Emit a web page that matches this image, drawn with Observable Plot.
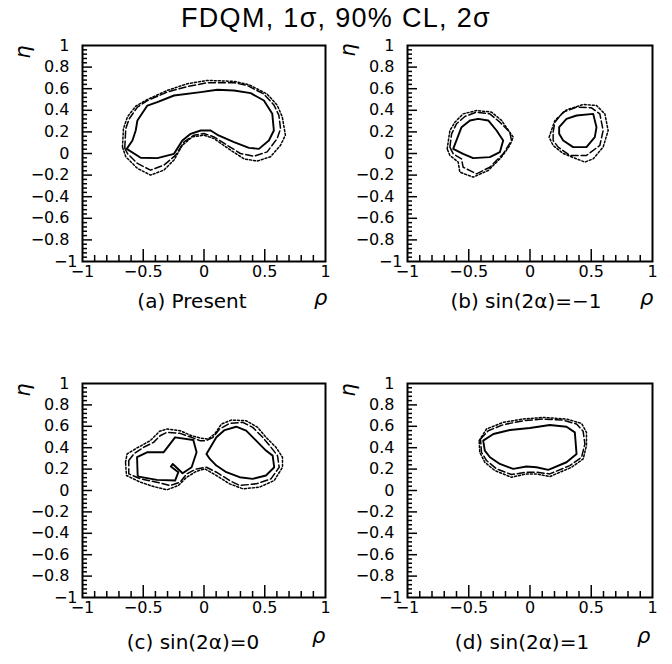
<!DOCTYPE html>
<html><head><meta charset="utf-8">
<script src="https://cdn.jsdelivr.net/npm/d3@7"></script>
<script src="https://cdn.jsdelivr.net/npm/@observablehq/plot@0.6"></script>
<style>
body{margin:0;background:#fff;}
#root{position:relative;width:672px;height:664px;font-family:"Liberation Sans",Arial,sans-serif;color:#000;background:#fff;}
.abs{position:absolute;white-space:nowrap;line-height:1;}
.plot{position:absolute;}
</style></head><body><div id="root"></div>
<script>
// ---- axis ticks ----
const xLabelTicks = [-1, -0.5, 0, 0.5, 1];
const xMajorTicks = [-0.5, 0, 0.5];
const xMinorTicks = [-0.9,-0.8,-0.7,-0.6,-0.4,-0.3,-0.2,-0.1,0.1,0.2,0.3,0.4,0.6,0.7,0.8,0.9];
const yLabelTicks = [1, 0.8, 0.6, 0.4, 0.2, 0, -0.2, -0.4, -0.6, -0.8];
const yBottomLabel = [-1];
const yMajorTicks = [0.8, 0.6, 0.4, 0.2, 0, -0.2, -0.4, -0.6, -0.8];
const yMinorTicks = d3.range(-0.96, 0.97, 0.04).map(v => Math.round(v * 100) / 100).filter(v => Math.round(v * 100) % 20 !== 0);

// ---- title & captions ----
const title = "FDQM, 1σ, 90% CL, 2σ";
const captions = ["(a) Present", "(b) sin(2α)=−1", "(c) sin(2α)=0", "(d) sin(2α)=1"];
const xName = "ρ";
const yName = "η";

// ---- contours: [rho, eta] ----
// (a) Present
const a1sigma = [[-0.636,0.043],[-0.589,0.120],[-0.562,0.213],[-0.548,0.306],[-0.466,0.444],[-0.384,0.475],[-0.247,0.537],[-0.027,0.568],[0.110,0.590],[0.247,0.583],[0.384,0.559],[0.493,0.491],[0.562,0.367],[0.575,0.213],[0.534,0.120],[0.452,0.043],[0.370,0.052],[0.247,0.105],[0.110,0.173],[0.055,0.213],[-0.027,0.213],[-0.110,0.182],[-0.178,0.120],[-0.247,-0.003],[-0.384,-0.043],[-0.521,-0.040]];
const a90cl = [[-0.652,0.05],[-0.644,0.23],[-0.616,0.32],[-0.548,0.43],[-0.466,0.49],[-0.30,0.57],[-0.137,0.62],[0.027,0.655],[0.247,0.655],[0.356,0.63],[0.493,0.55],[0.575,0.45],[0.616,0.355],[0.63,0.23],[0.603,0.14],[0.52,0.015],[0.41,-0.025],[0.30,0.0],[0.19,0.077],[0.082,0.154],[0.0,0.185],[-0.082,0.17],[-0.164,0.108],[-0.233,-0.015],[-0.33,-0.108],[-0.44,-0.154],[-0.548,-0.092],[-0.63,0.0]];
const a2sigma = [[-0.671,0.06],[-0.663,0.23],[-0.63,0.34],[-0.56,0.44],[-0.466,0.5],[-0.30,0.585],[-0.137,0.646],[0.027,0.677],[0.247,0.668],[0.37,0.637],[0.52,0.55],[0.603,0.446],[0.644,0.34],[0.67,0.17],[0.63,0.077],[0.548,-0.03],[0.438,-0.07],[0.33,-0.05],[0.22,0.03],[0.082,0.138],[0.0,0.17],[-0.096,0.154],[-0.178,0.077],[-0.247,-0.06],[-0.33,-0.154],[-0.44,-0.2],[-0.548,-0.138],[-0.644,-0.03]];
// (b) sin(2a) = -1 : two islands
const b1sigmaL = [[-0.627,0.043],[-0.559,0.244],[-0.49,0.306],[-0.423,0.321],[-0.341,0.306],[-0.273,0.213],[-0.219,0.120],[-0.246,0.012],[-0.328,-0.034],[-0.464,-0.043],[-0.546,-0.003]];
const b90clL = [[-0.654,0.059],[-0.64,0.182],[-0.6,0.275],[-0.532,0.343],[-0.437,0.383],[-0.328,0.367],[-0.246,0.29],[-0.165,0.198],[-0.151,0.120],[-0.219,-0.003],[-0.328,-0.127],[-0.437,-0.188],[-0.546,-0.127],[-0.559,-0.05],[-0.627,-0.003]];
const b2sigmaL = [[-0.676,0.043],[-0.654,0.213],[-0.613,0.29],[-0.546,0.367],[-0.437,0.398],[-0.314,0.383],[-0.232,0.306],[-0.137,0.151],[-0.165,0.074],[-0.233,-0.034],[-0.341,-0.157],[-0.464,-0.219],[-0.573,-0.173],[-0.586,-0.08],[-0.654,-0.018]];
const b1sigmaR = [[0.238,0.244],[0.298,0.321],[0.38,0.352],[0.516,0.367],[0.543,0.244],[0.529,0.151],[0.461,0.059],[0.352,0.059],[0.271,0.120],[0.238,0.182]];
const b90clR = [[0.189,0.198],[0.203,0.29],[0.271,0.383],[0.38,0.429],[0.502,0.423],[0.57,0.367],[0.597,0.213],[0.57,0.074],[0.461,-0.018],[0.325,-0.018],[0.23,0.059],[0.189,0.12]];
const b2sigmaR = [[0.156,0.151],[0.203,0.306],[0.298,0.404],[0.434,0.454],[0.543,0.444],[0.611,0.367],[0.638,0.213],[0.597,0.059],[0.516,-0.049],[0.448,-0.080],[0.38,-0.049],[0.271,0.0],[0.189,0.074]];
// (c) sin(2a) = 0
const c1sigmaL = [[-0.546,0.140],[-0.551,0.311],[-0.469,0.357],[-0.333,0.357],[-0.238,0.497],[-0.088,0.472],[-0.061,0.357],[-0.102,0.217],[-0.176,0.161],[-0.257,0.248],[-0.273,0.224],[-0.211,0.171],[-0.238,0.093],[-0.388,0.099],[-0.537,0.130]];
const c1sigmaR = [[0.020,0.342],[0.102,0.497],[0.170,0.565],[0.265,0.596],[0.347,0.559],[0.429,0.466],[0.510,0.373],[0.565,0.326],[0.578,0.217],[0.510,0.140],[0.401,0.109],[0.293,0.124],[0.184,0.171],[0.102,0.233],[0.048,0.295]];
const c90cl = [[-0.619,0.280],[-0.578,0.342],[-0.497,0.404],[-0.415,0.450],[-0.361,0.512],[-0.306,0.543],[-0.197,0.534],[-0.102,0.497],[-0.034,0.466],[0.020,0.466],[0.075,0.497],[0.129,0.575],[0.211,0.627],[0.320,0.637],[0.401,0.590],[0.483,0.497],[0.551,0.404],[0.605,0.326],[0.619,0.217],[0.551,0.109],[0.429,0.062],[0.293,0.047],[0.211,0.093],[0.102,0.171],[0.020,0.217],[-0.061,0.202],[-0.143,0.155],[-0.197,0.078],[-0.279,0.047],[-0.388,0.078],[-0.524,0.109],[-0.619,0.155]];
const c2sigma = [[-0.646,0.264],[-0.633,0.342],[-0.551,0.398],[-0.442,0.466],[-0.366,0.553],[-0.306,0.575],[-0.197,0.559],[-0.102,0.512],[-0.034,0.491],[0.034,0.481],[0.088,0.528],[0.143,0.621],[0.224,0.658],[0.347,0.652],[0.442,0.590],[0.510,0.497],[0.592,0.404],[0.646,0.311],[0.646,0.217],[0.578,0.093],[0.456,0.031],[0.320,0.016],[0.211,0.062],[0.102,0.140],[0.007,0.202],[-0.061,0.180],[-0.143,0.124],[-0.211,0.047],[-0.306,0.006],[-0.415,0.037],[-0.524,0.078],[-0.638,0.140]];
// (d) sin(2a) = 1
const d1sigma = [[-0.382,0.466],[-0.299,0.528],[-0.163,0.565],[-0.001,0.584],[0.162,0.612],[0.298,0.596],[0.366,0.543],[0.380,0.342],[0.298,0.264],[0.149,0.193],[0.053,0.217],[-0.029,0.224],[-0.137,0.202],[-0.246,0.248],[-0.327,0.311],[-0.369,0.373]];
const d90cl = [[-0.404,0.481],[-0.341,0.559],[-0.218,0.615],[-0.055,0.652],[0.108,0.668],[0.271,0.658],[0.380,0.621],[0.434,0.553],[0.448,0.435],[0.421,0.311],[0.325,0.233],[0.162,0.155],[0.053,0.171],[-0.029,0.171],[-0.151,0.149],[-0.273,0.202],[-0.355,0.280],[-0.396,0.357]];
const d2sigma = [[-0.415,0.466],[-0.355,0.575],[-0.218,0.637],[-0.055,0.668],[0.108,0.683],[0.298,0.668],[0.421,0.627],[0.461,0.543],[0.461,0.419],[0.434,0.295],[0.339,0.217],[0.162,0.130],[0.053,0.155],[-0.029,0.155],[-0.151,0.124],[-0.287,0.186],[-0.369,0.264],[-0.410,0.357]];

const root = document.getElementById("root");
const FONT = "DejaVu Sans, sans-serif";
const fmt = d => (d < 0 ? "\u2212" : "") + Math.abs(d);

function addText(txt, x, y, style) {
  const el = document.createElement("div");
  el.className = "abs";
  el.textContent = txt;
  el.style.left = x + "px";
  el.style.top = y + "px";
  Object.assign(el.style, style || {});
  root.appendChild(el);
  return el;
}

addText(title, 0, 5, {width: "672px", textAlign: "center", fontSize: "27px", letterSpacing: "1.3px", fontFamily: "Liberation Sans, Arial, sans-serif"});

const panels = [
  {left: 0,   top: 30,  h: 276, ml: 82, mr: 11, mt: 15, mb: 45, solid: [a1sigma], dash: [a90cl], dot: [a2sigma]},
  {left: 336, top: 30,  h: 276, ml: 71, mr: 20, mt: 15, mb: 45, solid: [b1sigmaL, b1sigmaR], dash: [b90clL, b90clR], dot: [b2sigmaL, b2sigmaR]},
  {left: 0,   top: 370, h: 257, ml: 82, mr: 11, mt: 13, mb: 30, solid: [c1sigmaL, c1sigmaR], dash: [c90cl], dot: [c2sigma]},
  {left: 336, top: 370, h: 257, ml: 71, mr: 20, mt: 13, mb: 30, solid: [d1sigma], dash: [d90cl], dot: [d2sigma]}
];

const capPos = [[192, 291], [526, 291], [193, 632], [522, 632]];
const rhoPos = [[314, 288], [640, 288], [312, 626], [637, 626]];
const etaPos = [[23, 52], [348, 50], [23, 390], [348, 390]];

panels.forEach((p, i) => {
  const lineOpts = {x: d => d[0], y: d => d[1], curve: "linear-closed", stroke: "black"};
  const marks = [];
  p.dot.forEach(c => marks.push(Plot.line(c, {...lineOpts, strokeWidth: 1.5, strokeDasharray: "2,2"})));
  p.dash.forEach(c => marks.push(Plot.line(c, {...lineOpts, strokeWidth: 1.5, strokeDasharray: "7,3"})));
  p.solid.forEach(c => marks.push(Plot.line(c, {...lineOpts, strokeWidth: 1.9})));
  const chart = Plot.plot({
    width: 336, height: p.h,
    marginLeft: p.ml, marginRight: p.mr, marginTop: p.mt, marginBottom: p.mb,
    x: {domain: [-1, 1]},
    y: {domain: [-1, 1]},
    style: {fontFamily: FONT, fontSize: "16px", color: "#000", background: "transparent", overflow: "visible"},
    marks: [
      Plot.axisX(xMinorTicks, {tickSize: 6, dy: -6, tickFormat: () => "", label: null, strokeWidth: 1.5}),
      Plot.axisX(xMajorTicks, {tickSize: 12, dy: -12, tickFormat: () => "", label: null, strokeWidth: 1.5}),
      Plot.axisX(xLabelTicks, {tickSize: 0, tickPadding: 4, tickFormat: fmt, label: null, fontSize: 16}),
      Plot.axisY(yMinorTicks, {tickSize: 5, dx: 5, tickFormat: () => "", label: null, strokeWidth: 1.5}),
      Plot.axisY(yMajorTicks, {tickSize: 10, dx: 10, tickFormat: () => "", label: null, strokeWidth: 1.5}),
      Plot.axisY(yLabelTicks, {tickSize: 0, tickPadding: 13, tickFormat: fmt, label: null, fontSize: 16}),
      Plot.axisY(yBottomLabel, {tickSize: 0, tickPadding: 5, tickFormat: fmt, label: null, fontSize: 16}),
      ...marks,
      Plot.frame({stroke: "black", strokeWidth: 2})
    ]
  });
  chart.classList.add("plot");
  chart.style.left = p.left + "px";
  chart.style.top = p.top + "px";
  root.appendChild(chart);

  addText(captions[i], capPos[i][0], capPos[i][1], {fontSize: "20px", fontFamily: FONT, transform: "translateX(-50%)"});
  addText(xName, rhoPos[i][0], rhoPos[i][1], {fontSize: "21px", fontStyle: "italic", fontFamily: FONT});
  addText(yName, etaPos[i][0], etaPos[i][1], {fontSize: "21px", fontStyle: "italic", fontFamily: FONT, transform: "translate(-50%,-50%) rotate(-90deg)"});
});
</script></body></html>
